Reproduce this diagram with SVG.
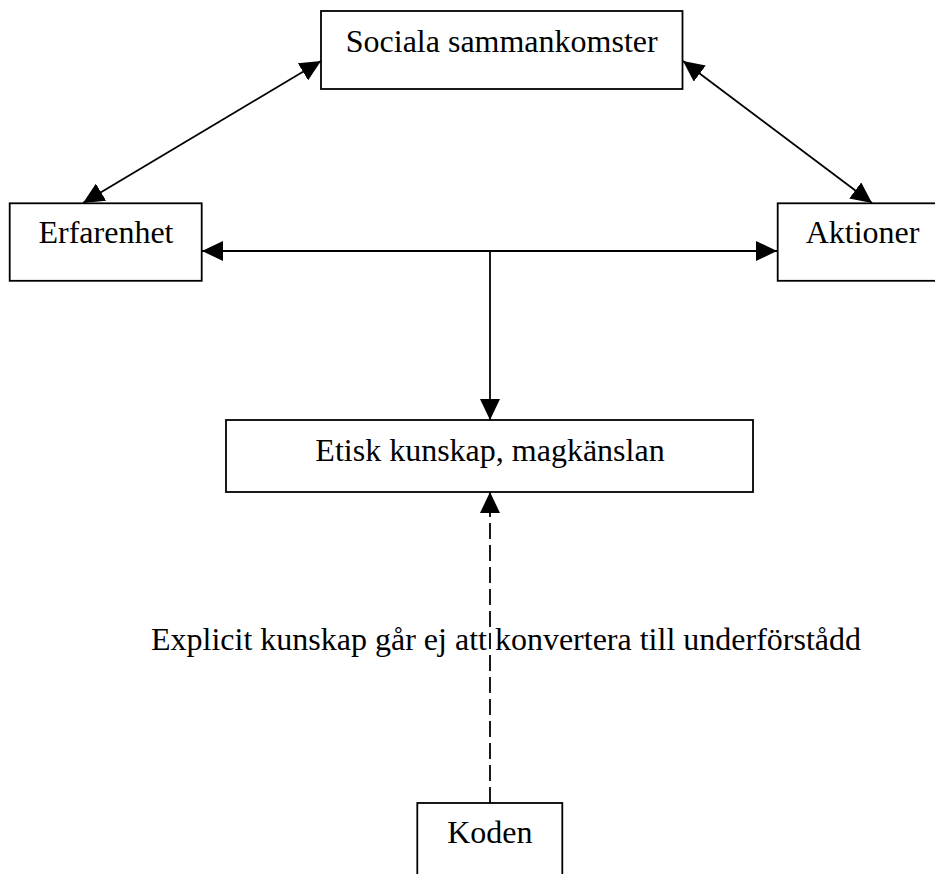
<svg xmlns="http://www.w3.org/2000/svg" width="935" height="874" viewBox="0 0 935 874">
<style>
.box{fill:#fff;stroke:#000;stroke-width:1.8}
.lbl{font-family:"Liberation Serif","Times New Roman",serif;font-size:32px;fill:#000}
.c{text-anchor:middle}
.ln{fill:none;stroke:#000;stroke-width:1.8}
.dash{stroke-dasharray:16 6}
</style>
<defs>
<marker id="ah" markerUnits="userSpaceOnUse" markerWidth="22" markerHeight="20" refX="21" refY="10" orient="auto-start-reverse" viewBox="0 0 22 20">
<path d="M0,0 L21,10 L0,20 z" fill="#000"/>
</marker>
</defs>
<rect width="935" height="874" fill="#fff"/>
<g id="connectors">
<line class="ln" x1="321" y1="61" x2="83" y2="203" marker-start="url(#ah)" marker-end="url(#ah)"/>
<line class="ln" x1="683" y1="61" x2="872" y2="203" marker-start="url(#ah)" marker-end="url(#ah)"/>
<line class="ln" x1="202" y1="251" x2="777" y2="251" marker-start="url(#ah)" marker-end="url(#ah)"/>
<line class="ln" x1="490" y1="251" x2="490" y2="420" marker-end="url(#ah)"/>
<line class="ln dash" x1="490" y1="803" x2="490" y2="492" marker-end="url(#ah)"/>
</g>
<g id="sociala">
<rect class="box" x="321" y="11" width="361.5" height="78"/>
<text class="lbl c" x="501.7" y="52">Sociala sammankomster</text>
</g>
<g id="erfarenhet">
<rect class="box" x="9.7" y="203.3" width="192" height="77.5"/>
<text class="lbl c" x="106" y="243">Erfarenhet</text>
</g>
<g id="aktioner">
<rect class="box" x="777.7" y="203.3" width="170" height="77.5"/>
<text class="lbl c" x="862.5" y="243">Aktioner</text>
</g>
<g id="etisk">
<rect class="box" x="226" y="420" width="527" height="72"/>
<text class="lbl c" x="490" y="461">Etisk kunskap, magkänslan</text>
</g>
<g id="explicit">
<text class="lbl" x="151" y="650">Explicit kunskap går ej att konvertera till underförstådd</text>
</g>
<g id="koden">
<rect class="box" x="417.3" y="803" width="145" height="78"/>
<text class="lbl c" x="489.8" y="843">Koden</text>
</g>
</svg>
